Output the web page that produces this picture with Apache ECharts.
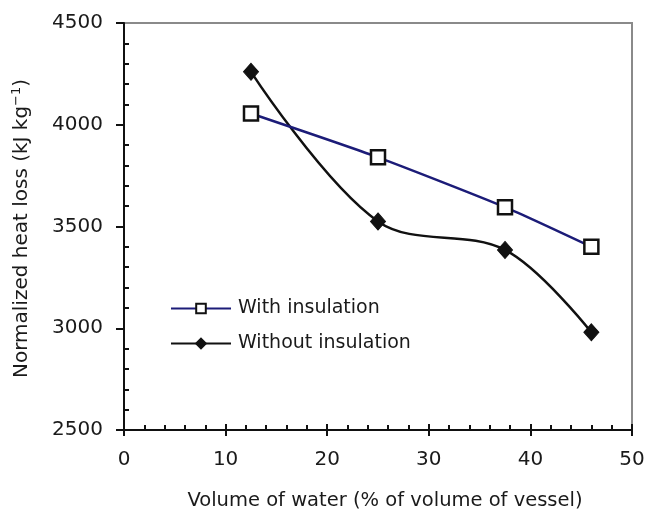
<!DOCTYPE html>
<html>
<head>
<meta charset="utf-8">
<style>
  html, body { margin: 0; padding: 0; background: #ffffff; }
  #chart { width: 645px; height: 511px; }
</style>
<script src="https://cdn.jsdelivr.net/npm/echarts@6/dist/echarts.min.js"></script>
</head>
<body>
<div id="chart"></div>
<script>
// Water volume as % of vessel volume
const volumePct = [12.5, 25, 37.5, 46];
// Normalized heat loss, kJ/kg
const withInsulation = [4055, 3840, 3595, 3400];
const withoutInsulation = [4260, 3525, 3385, 2980];
const seriesNames = ['With insulation', 'Without insulation'];

const FONT = 'DejaVu Sans';
const TEXT = '#1a1a1a';

const pairs = (xs, ys) => xs.map((x, i) => [x, ys[i]]);

const chart = echarts.init(document.getElementById('chart'), null, { renderer: 'canvas' });

const xBase = { type: 'value', min: 0, max: 50, interval: 10, position: 'bottom', splitLine: { show: false } };
const yBase = { type: 'value', min: 2500, max: 4500, interval: 500, position: 'left', splitLine: { show: false } };

chart.setOption({
  backgroundColor: '#ffffff',
  animation: false,
  grid: {
    left: 124, right: 13, top: 23, bottom: 81,
    outerBoundsMode: 'none',
    containLabel: false,
    show: true, borderColor: '#8a8a8a', borderWidth: 2, backgroundColor: 'transparent'
  },
  legend: {
    orient: 'vertical',
    left: 170, top: 299,
    padding: 0,
    itemWidth: 60, itemHeight: 12, itemGap: 16,
    textStyle: { fontFamily: FONT, fontSize: 19, color: TEXT, padding: [0, 0, 0, 2] },
    data: seriesNames
  },
  xAxis: [
    Object.assign({}, xBase, {
      name: 'Volume of water (% of volume of vessel)',
      nameLocation: 'middle', nameGap: 61,
      nameTextStyle: { fontFamily: FONT, fontSize: 19.5, color: TEXT, padding: [0, 0, 0, 14] },
      axisLine: { show: true, onZero: false, lineStyle: { color: '#111', width: 2 } },
      axisTick: { show: true, inside: false, length: 6, lineStyle: { color: '#111', width: 2 } },
      axisLabel: { fontFamily: FONT, fontSize: 20, color: TEXT, margin: 20 }
    }),
    Object.assign({}, xBase, {
      axisLine: { show: false, onZero: false },
      axisTick: { show: true, inside: true, length: 6, lineStyle: { color: '#111', width: 2 } },
      minorTick: { show: true, splitNumber: 5, length: 5, lineStyle: { color: '#111', width: 2 } },
      axisLabel: { show: false }
    })
  ],
  yAxis: [
    Object.assign({}, yBase, {
      name: 'Normalized heat loss (kJ kg{sup|−1})',
      nameLocation: 'middle', nameGap: 91, nameRotate: 90,
      nameTextStyle: {
        fontFamily: FONT, fontSize: 20, color: TEXT, padding: [0, 4, 0, 0],
        rich: { sup: { fontFamily: FONT, fontSize: 13, color: TEXT, verticalAlign: 'top', padding: [0, 0, 10, 0] } }
      },
      axisLine: { show: true, onZero: false, lineStyle: { color: '#111', width: 2 } },
      axisTick: { show: true, inside: false, length: 8, lineStyle: { color: '#111', width: 2 } },
      axisLabel: { fontFamily: FONT, fontSize: 20, color: TEXT, margin: 21, formatter: v => String(v) }
    }),
    Object.assign({}, yBase, {
      axisLine: { show: false, onZero: false },
      axisTick: { show: false, inside: true },
      minorTick: { show: true, splitNumber: 5, length: 5, lineStyle: { color: '#111', width: 2 } },
      axisLabel: { show: false }
    })
  ],
  series: [
    {
      name: seriesNames[0],
      type: 'line',
      data: pairs(volumePct, withInsulation),
      smooth: 0.2,
      symbol: 'rect', symbolSize: 14,
      lineStyle: { color: '#1c1c78', width: 2.5 },
      itemStyle: { color: '#ffffff', borderColor: '#111', borderWidth: 2.5 },
      z: 3
    },
    {
      name: seriesNames[1],
      type: 'line',
      data: pairs(volumePct, withoutInsulation),
      smooth: 0.35,
      symbol: 'diamond', symbolSize: [15, 17],
      lineStyle: { color: '#111', width: 2.5 },
      itemStyle: { color: '#111', borderColor: '#111', borderWidth: 1 },
      z: 2
    }
  ]
});
</script>
</body>
</html>
